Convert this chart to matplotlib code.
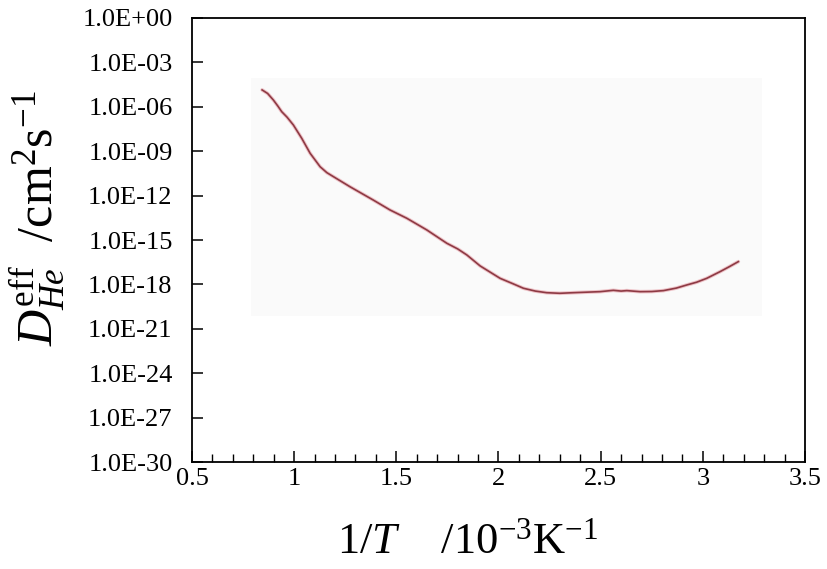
import matplotlib
matplotlib.use("Agg")
import matplotlib.pyplot as plt
from matplotlib.ticker import FixedLocator, MultipleLocator, FuncFormatter
from matplotlib.patches import Rectangle
import numpy as np

# Data: 1/T (10^-3 K^-1) and log10 of D_He^eff (cm^2 s^-1)
inv_T = [0.843, 0.87, 0.898, 0.92, 0.939, 0.965, 0.996, 1.037, 1.078, 1.127,
         1.16, 1.192, 1.273, 1.33, 1.387, 1.469, 1.551, 1.649, 1.747, 1.8,
         1.845, 1.91, 2.008, 2.07, 2.122, 2.18, 2.236, 2.30, 2.366, 2.44,
         2.497, 2.562, 2.60, 2.628, 2.693, 2.75, 2.807, 2.87, 2.921, 2.97,
         3.019, 3.084, 3.13, 3.174]
log_D = [-4.86, -5.1, -5.54, -5.95, -6.33, -6.7, -7.23, -8.13, -9.14, -10.05,
         -10.45, -10.72, -11.4, -11.85, -12.3, -12.97, -13.53, -14.32, -15.22, -15.6,
         -16.01, -16.75, -17.59, -17.95, -18.26, -18.45, -18.56, -18.6, -18.56, -18.52,
         -18.49, -18.4, -18.45, -18.42, -18.49, -18.48, -18.42, -18.25, -18.04, -17.85,
         -17.59, -17.14, -16.8, -16.46]
D_eff = [10.0 ** v for v in log_D]

y_ticks = [1e0, 1e-3, 1e-6, 1e-9, 1e-12, 1e-15, 1e-18, 1e-21, 1e-24, 1e-27, 1e-30]
x_ticks = [0.5, 1, 1.5, 2, 2.5, 3, 3.5]

plt.rcParams['font.family'] = ['Liberation Serif', 'DejaVu Serif']
plt.rcParams['mathtext.fontset'] = 'custom'
plt.rcParams['mathtext.rm'] = 'Liberation Serif'
plt.rcParams['mathtext.it'] = 'Liberation Serif:italic'
plt.rcParams['mathtext.bf'] = 'Liberation Serif:bold'

fig = plt.figure(figsize=(8.28, 5.69), dpi=100)
ax = fig.add_axes([0.2319, 0.188, 0.7403, 0.7804])

# faint background patch seen in the reference image
ax.add_patch(Rectangle((0.096, 0.329), 0.834, 0.536, transform=ax.transAxes,
                       facecolor='#fafafa', edgecolor='none', zorder=0))

ax.plot(inv_T, D_eff, color='#eec3c8', lw=2.6, solid_capstyle='round', zorder=2)
ax.plot(inv_T, D_eff, color='#8e3a44', lw=1.2, zorder=3)

ax.set_yscale('log')
ax.set_ylim(1e-30, 1e0)
ax.set_xlim(0.5, 3.5)

ax.yaxis.set_major_locator(FixedLocator(y_ticks))
ax.yaxis.set_minor_locator(FixedLocator([]))
def fmt(v, pos):
    e = int(round(np.log10(v)))
    return "1.0E+00" if e == 0 else "1.0E-%02d" % (-e)
ax.yaxis.set_major_formatter(FuncFormatter(fmt))

ax.xaxis.set_major_locator(FixedLocator(x_ticks))
ax.xaxis.set_minor_locator(MultipleLocator(0.1))
ax.xaxis.set_major_formatter(FuncFormatter(lambda v, p: ('%g' % v)))

ax.tick_params(axis='both', which='major', direction='in', length=8, width=1.1,
               labelsize=19, top=False, right=False)
ax.tick_params(axis='x', which='minor', direction='in', length=6, width=1.0, top=False)
ax.tick_params(axis='x', which='major', pad=4)
ax.tick_params(axis='y', which='major', pad=14)

for s in ax.spines.values():
    s.set_linewidth(1.3)
    s.set_color('black')

ax.set_xlabel(r"1/$T$    /10$^{-3}$K$^{-1}$", fontsize=32)
ax.xaxis.set_label_coords(0.45, -0.135, transform=ax.transAxes)
ax.xaxis.label.set_va('top')
ax.set_ylabel(r"$D^{\mathrm{eff}}_{He}$  /cm$^{2}$s$^{-1}$", fontsize=36)
ax.yaxis.set_label_coords(-0.205, 0.55, transform=ax.transAxes)

fig.savefig("out.png", dpi=100)
